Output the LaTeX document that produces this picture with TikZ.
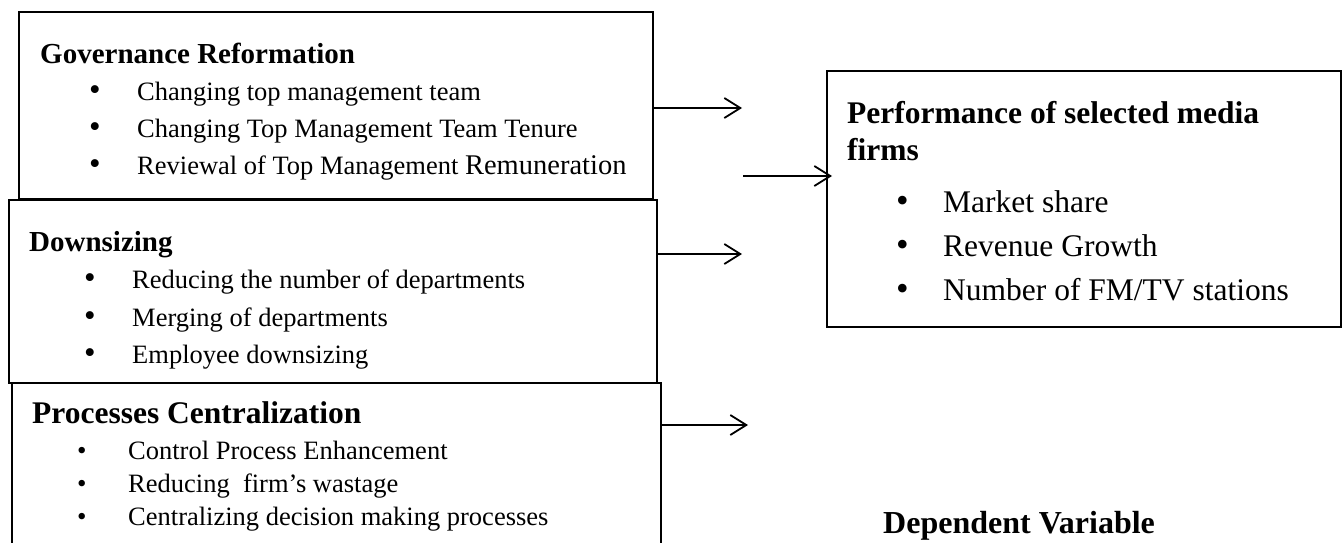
\documentclass[tikz,border=0pt]{standalone}
\usepackage{fontspec}
\setmainfont{Liberation Serif}
\usetikzlibrary{arrows.meta}
\newcommand{\myitem}[3]{\makebox[#1][l]{\fontsize{#2}{#2}\selectfont •}#3}
\begin{document}
\begin{tikzpicture}[x=1pt,y=-1pt,
  box/.style={draw, line width=1.8pt, inner sep=0pt, outer sep=0pt, anchor=north west},
  ttl/.style={anchor=base west, inner sep=0pt, font=\fontsize{29}{34}\selectfont\bfseries},
  bigttl/.style={anchor=base west, inner sep=0pt, font=\fontsize{31.5}{37}\selectfont\bfseries},
  itm/.style={anchor=base west, inner sep=0pt, font=\fontsize{26.5}{30}\selectfont},
  bigitm/.style={anchor=base west, inner sep=0pt, font=\fontsize{31.5}{37}\selectfont},
  conn/.style={line width=1.8pt, -{Straight Barb[length=16pt,width=20pt,line width=1.8pt]}}
]
\clip (0,0) rectangle (1343,542);
\fill[white] (0,0) rectangle (1343,542);

% boxes
\node[box, minimum width=634pt, minimum height=187pt] (gov) at (19,12) {};
\node[box, minimum width=648pt, minimum height=183pt] (down) at (9,200) {};
\node[box, minimum width=649pt, minimum height=220pt] (proc) at (12,383) {};
\node[box, minimum width=514pt, minimum height=256pt] (perf) at (827,71) {};

% Governance Reformation
\node[ttl] (govt) at (40,63) {Governance Reformation};
\node[itm] (gov1) at (89,100) {\myitem{48pt}{33}{Changing top management team}};
\node[itm] (gov2) at (89,137) {\myitem{48pt}{33}{Changing Top Management Team Tenure}};
\node[itm] (gov3) at (89,174) {\myitem{48pt}{33}{Reviewal of Top Management {\fontsize{28.5}{32}\selectfont Remuneration}}};

% Downsizing
\node[ttl] (downt) at (29,251) {Downsizing};
\node[itm] (down1) at (84,288) {\myitem{48pt}{33}{Reducing the number of departments}};
\node[itm] (down2) at (84,326) {\myitem{48pt}{33}{Merging of departments}};
\node[itm] (down3) at (84,363) {\myitem{48pt}{33}{Employee downsizing}};

% Processes Centralization
\node[bigttl] (proct) at (32,423) {Processes Centralization};
\node[itm] (proc1) at (77,459) {\myitem{51pt}{27}{Control Process Enhancement}};
\node[itm] (proc2) at (77,492) {\myitem{51pt}{27}{Reducing\ \ firm’s wastage}};
\node[itm] (proc3) at (77,525) {\myitem{51pt}{27}{Centralizing decision making processes}};

% Performance
\node[bigttl] (perft1) at (847,123) {Performance of selected media};
\node[bigttl] (perft2) at (847,160) {firms};
\node[bigitm] (perf1) at (896,212) {\myitem{47pt}{36}{Market share}};
\node[bigitm] (perf2) at (896,256) {\myitem{47pt}{36}{Revenue Growth}};
\node[bigitm] (perf3) at (896,300) {\myitem{47pt}{36}{Number of FM/TV stations}};

% Dependent Variable
\node[anchor=base west, inner sep=0pt, font=\fontsize{32}{37}\selectfont\bfseries] (dep) at (883,533) {Dependent Variable};

% arrows
\coordinate (a1e) at (742,108);
\coordinate (a2s) at (743,176);
\coordinate (a3e) at (742,254);
\coordinate (a4e) at (748,425);
\draw[conn] (gov.east |- a1e) -- (a1e);
\draw[conn, shorten >=-5pt] (a2s) -- (a2s -| perf.west);
\draw[conn] (down.east |- a3e) -- (a3e);
\draw[conn] (proc.east |- a4e) -- (a4e);
\end{tikzpicture}
\end{document}
